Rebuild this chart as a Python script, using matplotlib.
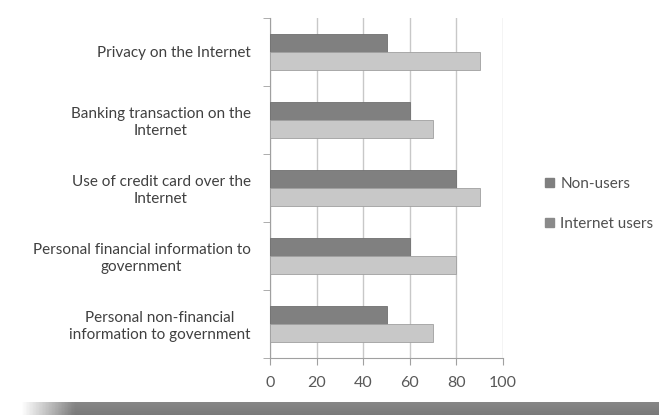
import matplotlib
matplotlib.use("Agg")
import matplotlib.pyplot as plt
from matplotlib.patches import Patch
import numpy as np

categories = ["Privacy on the Internet",
              "Banking transaction on the\nInternet",
              "Use of credit card over the\nInternet",
              "Personal financial information to\ngovernment",
              "Personal non-financial\ninformation to government"]
non_users = [50, 60, 80, 60, 50]
internet_users = [90, 70, 90, 80, 70]
xticks = [0, 20, 40, 60, 80, 100]
series_names = ["Non-users", "Internet users"]

plt.rcParams['font.family'] = ['Lato', 'DejaVu Sans']

fig = plt.figure(figsize=(6.59, 4.15), dpi=100)
ax = fig.add_axes([270/659, 1-358/415, 233/659, 340/415])

n = len(categories)
y = np.arange(n)[::-1]
h = 0.26
ax.barh(y + h/2, non_users, height=h, color='#808080', edgecolor='#707070', linewidth=0.6, label=series_names[0], zorder=3)
ax.barh(y - h/2, internet_users, height=h, color='#c8c8c8', edgecolor='#a0a0a0', linewidth=0.6, label=series_names[1], zorder=3)

ax.set_xlim(0, 100)
ax.set_ylim(-0.5, n - 0.5)
ax.set_xticks(xticks)
ax.set_xticklabels([str(v) for v in xticks], color='#595959', fontsize=11.5)
ax.xaxis.grid(True, color='#c8c8c8', linewidth=1, zorder=0)
ax.set_yticks(y)
ax.set_yticklabels(categories, color='#404040', fontsize=11, ha='right',
                   multialignment='center', linespacing=1.2)
ax.tick_params(axis='y', which='major', length=0, pad=14)
ax.set_yticks(np.arange(-0.5, n, 1.0), minor=True)
ax.tick_params(axis='y', which='minor', length=5, color='#a0a0a0', direction='out')
ax.tick_params(axis='x', length=5, color='#a0a0a0', direction='out', pad=8)
for s in ['top', 'right']:
    ax.spines[s].set_visible(False)
for s in ['left', 'bottom']:
    ax.spines[s].set_color('#a0a0a0')

handles = [Patch(facecolor='#7f7f7f', edgecolor='#7f7f7f'),
           Patch(facecolor='#8a8a8a', edgecolor='#8a8a8a')]
fig.legend(handles, series_names, loc='center left', bbox_to_anchor=(545/659, 1-204/415), frameon=False,
           fontsize=11, labelcolor='#505050', handlelength=0.6, handleheight=0.6,
           labelspacing=1.7, handletextpad=0.4, borderaxespad=0, borderpad=0)

# bottom shadow band
sax = fig.add_axes([20/659, 0, 639/659, 13/415])
ramp = np.clip(np.linspace(0, 1, 200) * 12, 0, 1)
vert = np.linspace(0.9, 1.0, 10)[:, None]
img = 1 - (0.52 * ramp[None, :] * vert)
sax.imshow(img, cmap='gray', vmin=0, vmax=1, aspect='auto', extent=[0, 1, 0, 1])
sax.axis('off')

fig.savefig('out.png', dpi=100)
